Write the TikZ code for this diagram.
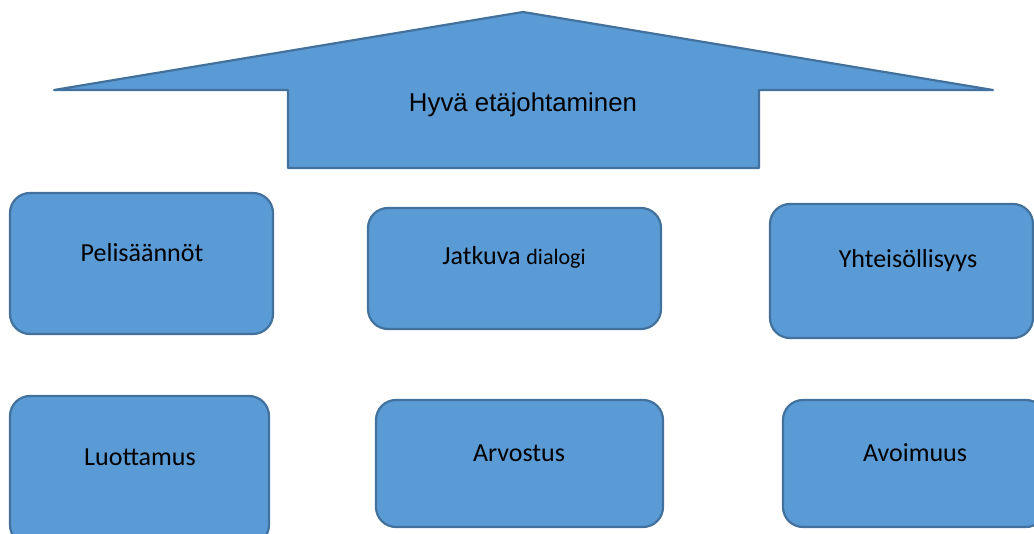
\documentclass[tikz,border=0pt]{standalone}
\usepackage{fontspec}
\setmainfont{Carlito}
\newfontfamily\arialfont{Liberation Sans}
\definecolor{boxfill}{HTML}{5B9BD5}
\definecolor{boxline}{HTML}{41719C}
\tikzset{
  shapestyle/.style={fill=boxfill, draw=boxline, line width=2.2pt, line join=round},
  card/.style={shapestyle, rectangle, rounded corners=20pt, inner sep=0pt},
  cardtext/.style={anchor=base, inner sep=0pt, font=\fontsize{26}{30}\selectfont},
  titletext/.style={anchor=base, inner sep=0pt, font=\arialfont\fontsize{25.8}{30}\selectfont}
}
\begin{document}
\begin{tikzpicture}[x=1pt, y=-1pt]
\useasboundingbox (0,0) rectangle (1034,534);
\clip (0,0) rectangle (1034,534);
% big arrow
\draw[shapestyle] (54,90) -- (523,12) -- (993,90) -- (759,90) -- (759,168)
  -- (288,168) -- (288,90) -- cycle;
\node[titletext] (title) at (523,112) {Hyvä etäjohtaminen};
% cards
\path[card] (10,193) rectangle (273,334);
\path[card] (368,208) rectangle (661,329);
\path[card] (770,204) rectangle (1033,338);
\path[card] (10,396) rectangle (269,545);
\path[card] (376,400) rectangle (663,527);
\path[card] (783,400) rectangle (1046,527);
\node[cardtext] (p1) at (142,262) {Pelisäännöt};
\node[cardtext] (p2) at (514,265) {Jatkuva {\fontsize{22}{26}\selectfont dialogi}};
\node[cardtext] (p3) at (908,268) {Yhteisöllisyys};
\node[cardtext] (p4) at (140,466) {Luottamus};
\node[cardtext] (p5) at (519,462) {Arvostus};
\node[cardtext] (p6) at (915,462) {Avoimuus};
\end{tikzpicture}
\end{document}
